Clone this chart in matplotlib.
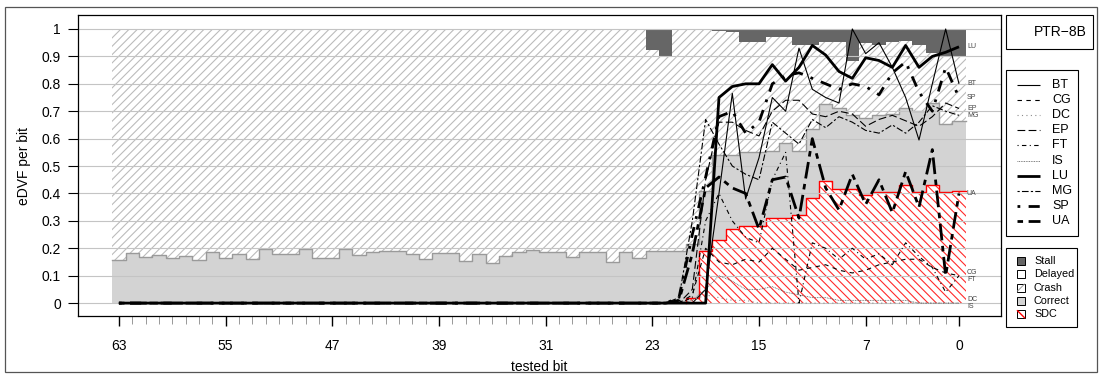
import numpy as np
import matplotlib.pyplot as plt
from matplotlib.lines import Line2D
from matplotlib.patches import Rectangle

plt.rcParams['font.family'] = ['Liberation Sans', 'DejaVu Sans']
plt.rcParams['hatch.linewidth'] = 0.8

# tested bits, left to right on the plot
bits = np.arange(63, -1, -1)

# outcome fractions per bit (bit 63 ... bit 0)
sdc = [0.0] * 43 + [0.02, 0.19, 0.23, 0.27, 0.28, 0.28, 0.31, 0.31, 0.32, 0.385,
                    0.445, 0.415, 0.415, 0.395, 0.405, 0.405, 0.43, 0.405, 0.43, 0.405, 0.41]
correct = [0.159, 0.181, 0.169, 0.174, 0.163, 0.172, 0.159, 0.187, 0.164, 0.179,
           0.160, 0.197, 0.180, 0.180, 0.196, 0.166, 0.166, 0.196, 0.176, 0.185,
           0.190, 0.190, 0.178, 0.160, 0.181, 0.181, 0.152, 0.178, 0.148, 0.173,
           0.185, 0.193, 0.185, 0.185, 0.169, 0.185, 0.185, 0.151, 0.187, 0.163,
           0.190, 0.190, 0.190, 0.195, 0.220, 0.310, 0.270, 0.270, 0.270, 0.245,
           0.275, 0.235, 0.250, 0.283, 0.295, 0.270, 0.280, 0.280, 0.285, 0.280,
           0.295, 0.300, 0.250, 0.255]
delayed = [0.0] * 64
stall = [0.0] * 40 + [0.075, 0.10, 0.0, 0.003, 0.005, 0.008, 0.01, 0.048, 0.048, 0.03,
                      0.03, 0.058, 0.058, 0.046, 0.046, 0.115, 0.052, 0.058, 0.046, 0.043,
                      0.058, 0.086, 0.103, 0.103]

# eDVF per benchmark; bits 63..23 are all zero
quiet = [0.0] * 41
bt = quiet + [0, 0, 0.0, 0.05, 0.40, 0.765, 0.38, 0.53, 0.75, 0.70, 0.93, 0.78,
              0.75, 0.73, 1.0, 0.91, 0.95, 0.86, 0.75, 0.595, 0.80, 1.0, 0.80]
cg = quiet + [0, 0, 0.03, 0.20, 0.15, 0.14, 0.16, 0.15, 0.20, 0.16, 0.12, 0.13,
              0.14, 0.12, 0.11, 0.12, 0.14, 0.15, 0.16, 0.16, 0.13, 0.11, 0.10]
dc = quiet + [0, 0, 0.01, 0.03, 0.02, 0.01, 0.01, 0.0, 0.0, 0.0, 0.0, 0.0,
              0.0, 0.0, 0.0, 0.0, 0.0, 0.0, 0.0, 0.0, 0.0, 0.0, 0.0]
ep = quiet + [0, 0.0, 0.05, 0.45, 0.66, 0.66, 0.63, 0.61, 0.70, 0.74, 0.74, 0.69,
              0.68, 0.70, 0.69, 0.645, 0.67, 0.685, 0.665, 0.645, 0.68, 0.73, 0.71]
ft = quiet + [0, 0, 0.02, 0.30, 0.40, 0.30, 0.24, 0.22, 0.45, 0.55, 0.0, 0.22,
              0.20, 0.16, 0.20, 0.16, 0.18, 0.14, 0.22, 0.17, 0.13, 0.04, 0.10]
is_ = quiet + [0, 0, 0.01, 0.05, 0.10, 0.08, 0.05, 0.05, 0.06, 0.04, 0.03, 0.02,
               0.02, 0.01, 0.01, 0.01, 0.01, 0.01, 0.01, 0.0, 0.0, 0.0, 0.0]
lu = quiet + [0, 0, 0, 0.0, 0.75, 0.79, 0.80, 0.80, 0.87, 0.81, 0.86, 0.94,
              0.905, 0.845, 0.82, 0.895, 0.885, 0.86, 0.94, 0.86, 0.90, 0.915, 0.935]
mg = quiet + [0, 0.02, 0.30, 0.67, 0.58, 0.50, 0.47, 0.45, 0.66, 0.62, 0.58, 0.67,
              0.64, 0.68, 0.66, 0.63, 0.62, 0.65, 0.62, 0.66, 0.72, 0.70, 0.685]
sp = quiet + [0, 0.02, 0.25, 0.46, 0.68, 0.70, 0.62, 0.66, 0.80, 0.83, 0.84, 0.82,
              0.80, 0.78, 0.80, 0.79, 0.76, 0.84, 0.88, 0.77, 0.70, 0.86, 0.75]
ua = quiet + [0, 0.01, 0.18, 0.42, 0.46, 0.42, 0.40, 0.27, 0.45, 0.46, 0.31, 0.60,
              0.42, 0.34, 0.47, 0.36, 0.45, 0.33, 0.48, 0.35, 0.56, 0.10, 0.40]

names = ['BT', 'CG', 'DC', 'EP', 'FT', 'IS', 'LU', 'MG', 'SP', 'UA']
series = [bt, cg, dc, ep, ft, is_, lu, mg, sp, ua]
# (linewidth, dash pattern, colour) for each benchmark
styles = [
    (0.8, (0, ()), 'black'),
    (0.8, (0, (4, 4)), 'black'),
    (0.8, (0, (1, 3)), '#8c8c8c'),
    (0.8, (0, (7, 3)), 'black'),
    (0.8, (0, (1, 3, 4, 3)), 'black'),
    (0.6, (0, (1, 1)), '#555555'),
    (2.0, (0, ()), 'black'),
    (0.8, (0, (2, 2, 6, 2)), 'black'),
    (2.0, (0, (1, 3, 4, 3)), 'black'),
    (2.0, (0, (2, 2, 6, 2)), 'black'),
]
# small vertical nudges so end labels sharing a value stay readable
label_shift = {'CG': 0.013, 'FT': -0.013, 'DC': 0.013, 'IS': -0.013}


def steps(vals):
    # one flat segment per bit, from bit+0.5 to bit-0.5
    xs = np.column_stack([bits + 0.5, bits - 0.5]).ravel()
    return xs, np.repeat(np.asarray(vals, dtype=float), 2)


fig = plt.figure(figsize=(10.99, 3.76), dpi=100)
ax = fig.add_axes([78 / 1099, 60 / 376, 923 / 1099, 301 / 376])

sdc_a = np.array(sdc)
corr_top = sdc_a + np.array(correct)
crash_top = 1.0 - np.array(delayed) - np.array(stall)
del_top = crash_top + np.array(delayed)

xs, y_sdc = steps(sdc_a)
_, y_corr = steps(corr_top)
_, y_crash = steps(crash_top)
_, y_del = steps(del_top)

ax.fill_between(xs, 0, y_sdc, facecolor='white', edgecolor='#ff2a2a',
                hatch='\\\\\\\\', linewidth=0, zorder=1)
ax.fill_between(xs, y_sdc, y_corr, facecolor='#d3d3d3', linewidth=0, zorder=1)
ax.fill_between(xs, y_corr, y_crash, facecolor='white', edgecolor='#bcbcbc',
                hatch='////', linewidth=0, zorder=1)
ax.fill_between(xs, y_crash, y_del, facecolor='white', linewidth=0, zorder=1)
ax.fill_between(xs, y_del, 1.0, facecolor='#666666', linewidth=0, zorder=1)

# outlines of the correct and SDC stacks
ax.plot(xs, y_corr, color='#9a9a9a', lw=1, zorder=1.5)
k = int(np.argmax(sdc_a > 0))
ax.plot(np.r_[xs[2 * k], xs[2 * k:]], np.r_[0, y_sdc[2 * k:]],
        color='#ff0000', lw=1, zorder=1.5)

for v in np.arange(0, 1.01, 0.1):
    ax.axhline(v, color='#c4c4c4', lw=0.8, zorder=2)

for name, vals, (lw, dash, col) in zip(names, series, styles):
    ax.plot(bits, vals, color=col, lw=lw, linestyle=dash, zorder=3)
    ax.text(-0.6, vals[-1] + label_shift.get(name, 0.0), name, fontsize=5,
            color='#444444', ha='left', va='center', zorder=4)

ax.set_xlim(66.07, -3.15)
ax.set_ylim(-0.047, 1.051)

ax.set_yticks(np.arange(0, 1.01, 0.1))
ax.set_yticklabels(['0', '0.1', '0.2', '0.3', '0.4', '0.5', '0.6', '0.7', '0.8', '0.9', '1'])
ax.set_xticks([63, 55, 47, 39, 31, 23, 15, 7, 0])
ax.set_xticks(bits, minor=True)
ax.tick_params(axis='y', direction='out', length=7.2, width=0.8, pad=5, labelsize=10)
ax.tick_params(axis='x', which='major', direction='out', length=7.5, width=1.0,
               pad=9, labelsize=10)
ax.tick_params(axis='x', which='minor', direction='out', length=6, width=0.6,
               color='#888888')
ax.set_xlabel('tested bit', fontsize=10, labelpad=5)
ax.set_ylabel('eDVF per bit', fontsize=10, labelpad=8)
for s in ax.spines.values():
    s.set_linewidth(0.9)

# legends and outer frame, drawn in pixel units
ov = fig.add_axes([0, 0, 1, 1])
ov.set_xlim(0, 1099)
ov.set_ylim(376, 0)
ov.axis('off')
ov.add_patch(Rectangle((5, 7), 1092, 365, fill=False, edgecolor='#555555', lw=0.9))

ov.add_patch(Rectangle((1006, 15), 87, 34, fill=False, edgecolor='black', lw=0.8))
ov.text(1087, 32, 'PTR\u22128B', fontsize=10, ha='right', va='center')

ov.add_patch(Rectangle((1006, 70), 72, 166, fill=False, edgecolor='black', lw=0.8))
for i, (name, (lw, dash, col)) in enumerate(zip(names, styles)):
    y = 85 + i * 15.1
    ov.add_line(Line2D([1017, 1040], [y, y], color=col, lw=lw, linestyle=dash))
    ov.text(1052, y, name, fontsize=9, va='center', ha='left')

ov.add_patch(Rectangle((1006, 248), 71, 79, fill=False, edgecolor='black', lw=0.8))
area_items = [('Stall', '#666666', None), ('Delayed', 'white', None),
              ('Crash', 'white', '#9a9a9a'), ('Correct', '#d3d3d3', None),
              ('SDC', 'white', '#ff0000')]
for i, (name, fc, hc) in enumerate(area_items):
    y = 261 + i * 13.3
    ov.add_patch(Rectangle((1017, y - 4), 8, 8, facecolor=fc, edgecolor='black', lw=0.7))
    if hc == '#ff0000':
        ov.add_line(Line2D([1017.5, 1024.5], [y - 3.5, y + 3.5], color=hc, lw=1))
    elif hc:
        ov.add_line(Line2D([1017.5, 1024.5], [y + 3.5, y - 3.5], color=hc, lw=0.7))
    ov.text(1034, y, name, fontsize=7.8, va='center', ha='left')

fig.savefig('out.png', dpi=100)
